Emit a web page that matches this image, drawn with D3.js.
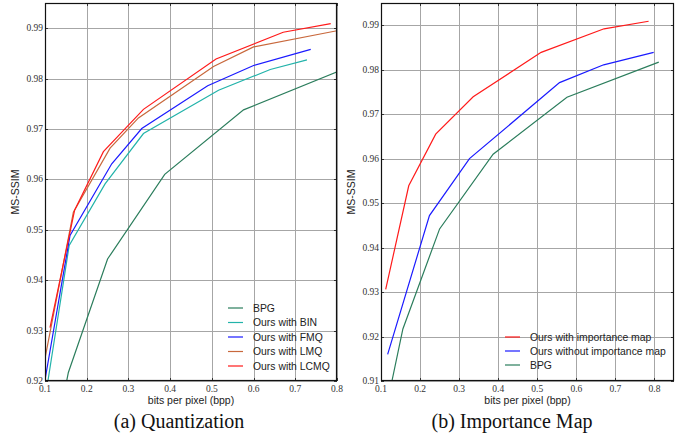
<html>
<head>
  <style>
    body { margin: 0; padding: 0; background: white; }
    svg { display: block; }
    .tick-label { font-family: "Liberation Serif", serif; font-size: 9.5px; fill: #333; }
    .axis-title { font-family: "Liberation Sans", Arial, sans-serif; font-size: 10.5px; fill: #222; }
    .legend-text { font-family: "Liberation Sans", Arial, sans-serif; font-size: 10.4px; fill: #222; }
    .caption { font-family: "Liberation Serif", serif; font-size: 20px; fill: #111; }
  </style>
</head>
<body>
<div id="chart"></div>
<script src="https://cdnjs.cloudflare.com/ajax/libs/d3/7.8.5/d3.min.js"></script>
<script>
  // x ticks (bpp) and y ticks (MS-SSIM)
  var xTicks = [0.1, 0.2, 0.3, 0.4, 0.5, 0.6, 0.7, 0.8];
  var yTicksA = [0.92, 0.93, 0.94, 0.95, 0.96, 0.97, 0.98, 0.99];
  var yTicksB = [0.91, 0.92, 0.93, 0.94, 0.95, 0.96, 0.97, 0.98, 0.99];

  // series, [bpp, ms-ssim]
  var bpg = [[0.128, 0.910], [0.156, 0.9217], [0.25, 0.9442], [0.387, 0.961], [0.576, 0.9738], [0.811, 0.9817]];
  var oursBIN = [[0.107, 0.920], [0.158, 0.9469], [0.244, 0.9591], [0.336, 0.9691], [0.516, 0.9777], [0.64, 0.9818], [0.728, 0.9837]];
  var oursFMQ = [[0.100, 0.9202], [0.160, 0.9489], [0.26, 0.9631], [0.332, 0.9701], [0.49, 0.9786], [0.60, 0.9826], [0.737, 0.9858]];
  var oursLMQ = [[0.100, 0.9245], [0.168, 0.9535], [0.256, 0.9662], [0.324, 0.9722], [0.504, 0.9824], [0.60, 0.9863], [0.80, 0.9895]];
  var oursLCMQ = [[0.112, 0.9306], [0.171, 0.9539], [0.240, 0.9655], [0.336, 0.9739], [0.51, 0.9839], [0.671, 0.9892], [0.785, 0.9909]];
  var oursNoMap = [[0.117, 0.916], [0.224, 0.9472], [0.3265, 0.960], [0.557, 0.9771], [0.67, 0.9811], [0.798, 0.9839]];

  var colors = {
    bpg: "#2b7d5c",
    bin: "#22b3aa",
    fmq: "#1a1aff",
    lmq: "#c8683c",
    lcmq: "#ff1a1a"
  };

  var svg = d3.select("#chart").append("svg")
    .attr("width", 682)
    .attr("height", 437);

  function drawPanel(opt) {
    var x = d3.scaleLinear().domain(opt.xDomain).range([opt.left, opt.right]);
    var y = d3.scaleLinear().domain(opt.yDomain).range([opt.bottom, opt.top]);
    var w = opt.right - opt.left, h = opt.bottom - opt.top;
    var g = svg.append("g");

    g.append("clipPath").attr("id", opt.id + "-clip")
      .append("rect")
      .attr("x", opt.left).attr("y", opt.top)
      .attr("width", w).attr("height", h);

    // grid
    g.append("g").selectAll("line.vg")
      .data(xTicks).enter().append("line")
      .attr("x1", function(d) { return Math.round(x(d)) + 0.5; })
      .attr("x2", function(d) { return Math.round(x(d)) + 0.5; })
      .attr("y1", opt.top).attr("y2", opt.bottom)
      .attr("stroke", "#a6a6a6").attr("stroke-width", 1);
    g.append("g").selectAll("line.hg")
      .data(opt.yTicks).enter().append("line")
      .attr("y1", function(d) { return Math.round(y(d)) + 0.5; })
      .attr("y2", function(d) { return Math.round(y(d)) + 0.5; })
      .attr("x1", opt.left).attr("x2", opt.right)
      .attr("stroke", "#a6a6a6").attr("stroke-width", 1);

    // small inward ticks on all sides
    var tk = g.append("g").attr("stroke", "#333").attr("stroke-width", 1);
    xTicks.forEach(function(d) {
      var px = Math.round(x(d)) + 0.5;
      tk.append("line").attr("x1", px).attr("x2", px).attr("y1", opt.bottom).attr("y2", opt.bottom - 3);
      tk.append("line").attr("x1", px).attr("x2", px).attr("y1", opt.top).attr("y2", opt.top + 3);
    });
    opt.yTicks.forEach(function(d) {
      var py = Math.round(y(d)) + 0.5;
      tk.append("line").attr("y1", py).attr("y2", py).attr("x1", opt.left).attr("x2", opt.left + 3);
      tk.append("line").attr("y1", py).attr("y2", py).attr("x1", opt.right).attr("x2", opt.right - 3);
    });

    // tick labels
    g.append("g").selectAll("text")
      .data(xTicks).enter().append("text")
      .attr("class", "tick-label")
      .attr("x", function(d) { return x(d); })
      .attr("y", opt.bottom + 11)
      .attr("text-anchor", "middle")
      .text(function(d) { return d3.format(".1f")(d); });
    g.append("g").selectAll("text")
      .data(opt.yTicks).enter().append("text")
      .attr("class", "tick-label")
      .attr("x", opt.left - 2)
      .attr("y", function(d) { return y(d) + 3; })
      .attr("text-anchor", "end")
      .text(function(d) { return d3.format(".2f")(d); });

    // lines
    var line = d3.line().x(function(d) { return x(d[0]); }).y(function(d) { return y(d[1]); });
    var lines = g.append("g").attr("clip-path", "url(#" + opt.id + "-clip)");
    opt.series.forEach(function(s) {
      lines.append("path")
        .datum(s.data)
        .attr("d", line)
        .attr("fill", "none")
        .attr("stroke", s.color)
        .attr("stroke-width", 1.2);
    });

    // frame
    g.append("rect")
      .attr("x", opt.left + 0.5).attr("y", opt.top + 0.5)
      .attr("width", w - 1).attr("height", h - 1)
      .attr("fill", "none").attr("stroke", "#111").attr("stroke-width", 1.2);

    // axis titles
    g.append("text").attr("class", "axis-title")
      .attr("x", (opt.left + opt.right) / 2)
      .attr("y", opt.bottom + 23)
      .attr("text-anchor", "middle")
      .text("bits per pixel (bpp)");
    g.append("text").attr("class", "axis-title")
      .attr("transform", "translate(" + (opt.left - 26) + "," + ((opt.top + opt.bottom) / 2) + ") rotate(-90)")
      .attr("text-anchor", "middle")
      .text("MS-SSIM");

    // legend
    var lg = g.append("g");
    opt.series.slice().sort(function(a, b) { return a.order - b.order; }).forEach(function(s, i) {
      var ly = opt.legendY + i * opt.legendStep;
      lg.append("line")
        .attr("x1", opt.legendX).attr("x2", opt.legendX + 15)
        .attr("y1", ly).attr("y2", ly)
        .attr("stroke", s.color).attr("stroke-width", 1.2);
      lg.append("text").attr("class", "legend-text")
        .attr("x", opt.legendX + 25)
        .attr("y", ly + 3.7)
        .text(s.name);
    });

    // caption
    g.append("text").attr("class", "caption")
      .attr("x", opt.captionX)
      .attr("y", 428)
      .attr("text-anchor", "middle")
      .text(opt.caption);
  }

  drawPanel({
    id: "a",
    left: 45, right: 337, top: 3, bottom: 381,
    xDomain: [0.1, 0.8], yDomain: [0.92, 0.995],
    yTicks: yTicksA,
    legendX: 228, legendY: 308, legendStep: 14.5,
    captionX: 179, caption: "(a) Quantization",
    series: [
      { name: "BPG", data: bpg, color: colors.bpg, order: 0 },
      { name: "Ours with BIN", data: oursBIN, color: colors.bin, order: 1 },
      { name: "Ours with FMQ", data: oursFMQ, color: colors.fmq, order: 2 },
      { name: "Ours with LMQ", data: oursLMQ, color: colors.lmq, order: 3 },
      { name: "Ours with LCMQ", data: oursLCMQ, color: colors.lcmq, order: 4 }
    ]
  });

  drawPanel({
    id: "b",
    left: 381, right: 674, top: 3, bottom: 381,
    xDomain: [0.1, 0.85], yDomain: [0.91, 0.995],
    yTicks: yTicksB,
    legendX: 505, legendY: 337, legendStep: 14,
    captionX: 512, caption: "(b) Importance Map",
    series: [
      { name: "Ours with importance map", data: oursLCMQ, color: colors.lcmq, order: 0 },
      { name: "Ours without importance map", data: oursNoMap, color: colors.fmq, order: 1 },
      { name: "BPG", data: bpg, color: colors.bpg, order: 2 }
    ]
  });
</script>
</body>
</html>
